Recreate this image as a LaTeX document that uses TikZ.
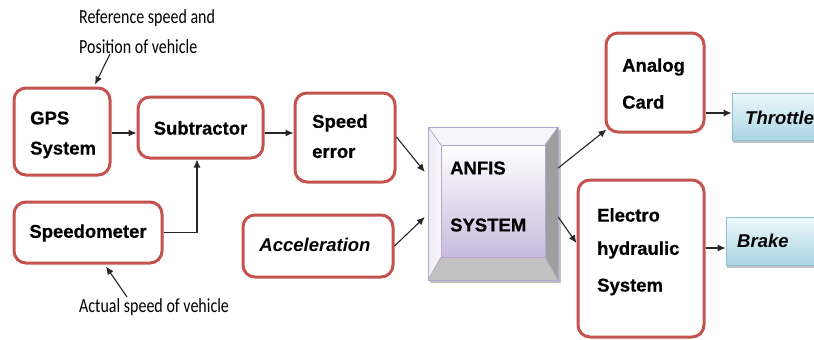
\documentclass[tikz,border=0pt]{standalone}
\usepackage{fontspec}
\setmainfont{Liberation Sans}[BoldFeatures={FakeBold=0.6}]
\newfontfamily\annotfont{Carlito}
\usetikzlibrary{arrows.meta,shadows,calc}
\definecolor{boxred}{HTML}{C4534F}
\definecolor{lavborder}{HTML}{B4A6CF}
\definecolor{lavface}{HTML}{C6BBDD}
\definecolor{bluetop}{HTML}{EEF8FB}
\definecolor{bluebot}{HTML}{A9D5E2}
\definecolor{blueborder}{HTML}{8FC0D0}
\tikzset{
  redbox/.style={draw=boxred, line width=3pt, rounded corners=12pt, fill=white},
  bluebox/.style={draw=blueborder, line width=0.8pt, top color=bluetop, bottom color=bluebot,
     drop shadow={shadow xshift=1pt, shadow yshift=-3pt, fill=black!30, opacity=0.8}},
  lbl/.style={font=\fontsize{18.5}{22}\selectfont\bfseries, inner sep=0pt, anchor=west},
  ilbl/.style={font=\fontsize{18.5}{22}\selectfont\bfseries\itshape, inner sep=0pt},
  note/.style={font=\annotfont\fontsize{20}{24}\selectfont, xscale=0.8, inner sep=0pt, anchor=west},
  arr/.style={-{Latex[length=8pt,width=7pt]}, line width=1.1pt, black!85},
}
\begin{document}
\begin{tikzpicture}[x=1pt,y=-1pt]
\useasboundingbox (0,0) rectangle (814,340);
\clip (0,0) rectangle (814,340);

% red boxes
\node[redbox, minimum width=96pt, minimum height=87pt] (gps) at (62,131.5) {};
\node[redbox, minimum width=125pt, minimum height=61pt] (sub) at (200.5,127.5) {};
\node[redbox, minimum width=148pt, minimum height=61pt] (spd) at (88,232.5) {};
\node[redbox, minimum width=100pt, minimum height=89pt] (err) at (345,137.5) {};
\node[redbox, minimum width=150pt, minimum height=62pt] (acc) at (318,246) {};
\node[redbox, minimum width=98pt, minimum height=99pt] (analog) at (655,82.5) {};
\node[redbox, minimum width=126pt, minimum height=157pt] (elec) at (641,258.5) {};

% blue boxes
\node[bluebox, minimum width=98pt, minimum height=47pt] (thr) at (781,116.5) {};
\node[bluebox, minimum width=104pt, minimum height=48pt] (brk) at (778,241) {};

% ANFIS bevel box
\node[minimum width=130pt, minimum height=153pt, inner sep=0pt] (anfis) at (493,203.5) {};
\fill[black!25] (430,130) rectangle (561,283);
\fill[top color=white, bottom color=lavface] (441,145) rectangle (545,257);
\fill[fill=white!85!lavface] (428,127) -- (558,127) -- (545,145) -- (441,145) -- cycle;
\fill[left color=white!70!lavface, right color=white!90!lavface] (428,127) -- (441,145) -- (441,257) -- (428,280) -- cycle;
\fill[black!38] (558,127) -- (558,280) -- (545,257) -- (545,145) -- cycle;
\fill[black!24] (428,280) -- (558,280) -- (545,257) -- (441,257) -- cycle;
\draw[lavborder, line width=0.8pt] (428,127) rectangle (558,280);
\draw[lavborder, line width=0.8pt] (441,145) rectangle (545,257);
\draw[lavborder, line width=0.6pt] (428,127) -- (441,145) (558,127) -- (545,145)
   (428,280) -- (441,257) (558,280) -- (545,257);

% texts
\node[lbl] (tgps1) at (30,118) {GPS};
\node[lbl] (tgps2) at (30,150) {System};
\node[lbl, anchor=center] (tsub) at (200.5,128) {Subtractor};
\node[lbl, anchor=center] (tspd) at (88,233) {Speedometer};
\node[lbl] (terr1) at (312,123) {Speed};
\node[lbl] (terr2) at (312,153) {error};
\node[ilbl] (tacc) at (315,245) {Acceleration};
\node[lbl] (tanf1) at (450,168) {ANFIS};
\node[lbl] (tanf2) at (450,225) {SYSTEM};
\node[lbl] (tana1) at (622,67) {Analog};
\node[lbl] (tana2) at (622,102) {Card};
\node[lbl] (tel1) at (597,215) {Electro};
\node[lbl] (tel2) at (597,250) {hydraulic};
\node[lbl] (tel3) at (597,287) {System};
\node[ilbl, anchor=west] (tthr) at (745,118) {Throttle};
\node[ilbl, anchor=west] (tbrk) at (737,241) {Brake};

% annotations
\node[note] (ref1) at (79,18) {Reference speed and};
\node[note] (ref2) at (79,47) {Position of vehicle};
\node[note] (act) at (79,307) {Actual speed of vehicle};
\coordinate (refp) at (110,54);
\coordinate (actp) at (127,297);

% connectors
\draw[arr] (refp) -- ([xshift=33pt,yshift=2pt]gps.north);
\draw[arr] (actp) -- ([xshift=18pt,yshift=-2pt]spd.south);
\draw[arr] ([yshift=-1.5pt]gps.east) -- ([yshift=-1.5pt]gps.east -| sub.west);
\draw[arr] (spd.east) -| ([xshift=-3.5pt]sub.south);
\draw[arr] ([yshift=-5.5pt]sub.east) -- ([yshift=-5.5pt]sub.east -| err.west);
\draw[arr] ([yshift=0.5pt]err.east) -- ([xshift=-3pt,yshift=31.5pt]anfis.west);
\draw[arr] (acc.east) -- ([xshift=-3pt,yshift=-13.5pt]anfis.west);
\draw[arr] ([yshift=35.5pt]anfis.east) -- ([xshift=2pt,yshift=4pt]analog.south west);
\draw[arr] ([yshift=-13.5pt]anfis.east) -- ([xshift=0pt,yshift=15.5pt]elec.west);
\draw[arr] ([yshift=3.5pt]thr.west -| analog.east) -- ([yshift=3.5pt]thr.west);
\draw[arr] ([yshift=-7pt]brk.west -| elec.east) -- ([yshift=-7pt]brk.west);
\end{tikzpicture}
\end{document}
